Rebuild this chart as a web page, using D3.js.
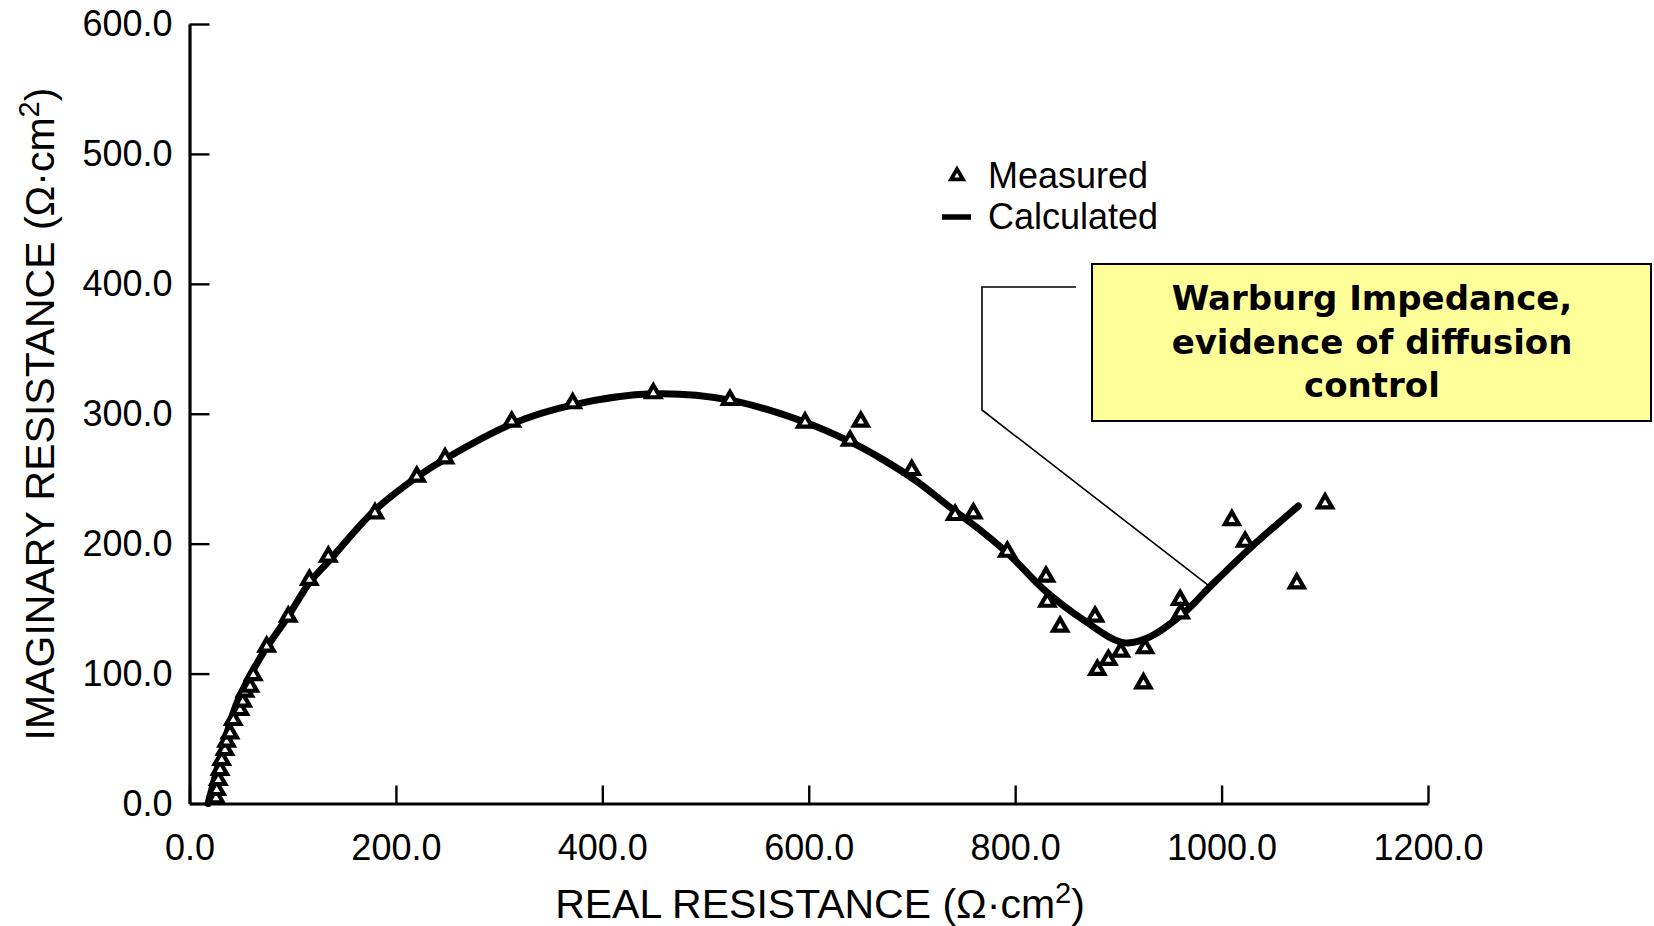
<!DOCTYPE html>
<html>
<head>
<meta charset="utf-8">
<script src="https://cdn.jsdelivr.net/npm/d3@7/dist/d3.min.js"></script>
<style>
  html, body { margin: 0; padding: 0; background: #fff; }
  svg { display: block; }
  .tick text { font-family: "Liberation Sans", Arial, Helvetica, sans-serif; font-size: 36px; fill: #000; }
</style>
</head>
<body>
<svg id="chart" width="1654" height="926"></svg>
<script>
// Measured impedance (real, imaginary), Ω·cm²
const measuredReal = [
  25.7, 26.4, 27.9, 29.6, 31.2, 34.4, 36.0, 39.2, 42.4, 48.9, 51.6, 53.8, 58.6, 61.8,
  74.8, 95.7, 116.1, 134.5, 179.7, 220.2, 247.6, 312.2, 371.3, 449.4, 523.7, 596.4,
  640.0, 650.4, 699.8, 741.8, 759.5, 792.4, 829.9, 831.2, 843.5, 877.4, 879.6, 890.3,
  902.3, 925.9, 924.3, 959.8, 960.4, 1009.9, 1022.8, 1072.9, 1100.3
];
const measuredImag = [
  4.0, 10.4, 18.1, 25.8, 33.5, 41.2, 47.6, 54.0, 64.3, 72.0, 78.4, 86.1, 89.9, 98.9,
  120.7, 143.8, 172.1, 190.0, 223.4, 251.6, 265.7, 293.9, 308.1, 315.8, 310.6, 293.2,
  279.3, 293.9, 256.7, 222.1, 223.4, 193.8, 174.6, 155.3, 136.1, 143.8, 102.8, 110.5,
  116.9, 119.5, 92.5, 156.7, 146.4, 218.2, 201.5, 169.5, 231.1
];

// Calculated (fitted) impedance curve
const calcReal = [
  18, 26.6, 34.4, 45.1, 58.6, 73.2, 94.5, 116.8, 136.1, 177.8, 220.4, 247.6, 312.5,
  371.6, 449.1, 523.7, 596.4, 640, 672.3, 704.7, 736.9, 769.2, 795, 827.3,
  866.1, 904.8, 930.7, 963, 988.8, 1027.6, 1074.4
];
const calcImag = [
  0, 25.8, 48.9, 75.8, 98.2, 118.2, 142.8, 170.5, 187.5, 224.4, 251.3, 265.2, 292.2,
  306.8, 315.3, 310.5, 293.5, 278.5, 264.5, 248, 228, 208.5, 191, 165,
  141.3, 123.8, 128.4, 146.4, 166.9, 196.5, 229
];

const xTicks = [0, 200, 400, 600, 800, 1000, 1200];
const yTicks = [0, 100, 200, 300, 400, 500, 600];
const legendLabels = ["Measured", "Calculated"];
const noteLines = ["Warburg Impedance,", "evidence of diffusion", "control"];
// point on the curve the note refers to
const notePoint = { real: 988.8, imag: 166.9 };

const svg = d3.select("#chart");
const axisFont = '"Liberation Sans", Arial, Helvetica, sans-serif';

const x = d3.scaleLinear().domain([0, 1200]).range([189.5, 1428]);
const y = d3.scaleLinear().domain([0, 600]).range([803.5, 24]);
const fmt = d3.format(".1f");

// Axes: ticks point inward
const xAxis = svg.append("g")
  .attr("transform", `translate(0,${y(0)})`)
  .call(d3.axisBottom(x).tickValues(xTicks).tickFormat(fmt)
    .tickSizeInner(-18).tickSizeOuter(0).tickPadding(31));
const yAxis = svg.append("g")
  .attr("transform", `translate(${x(0)},0)`)
  .call(d3.axisLeft(y).tickValues(yTicks).tickFormat(fmt)
    .tickSizeInner(-20).tickSizeOuter(0).tickPadding(17));

[xAxis, yAxis].forEach(g => {
  g.attr("font-family", null).attr("font-size", null);
  g.select(".domain").attr("stroke", "#000").attr("stroke-width", 3.2);
  g.selectAll(".tick line").attr("stroke", "#000").attr("stroke-width", 2.4);
});

// Axis titles
const xTitle = svg.append("text")
  .attr("x", 820).attr("y", 918)
  .attr("text-anchor", "middle")
  .attr("font-family", axisFont).attr("font-size", 41);
xTitle.append("tspan").text("REAL RESISTANCE (Ω·cm");
xTitle.append("tspan").attr("font-size", 29).attr("dy", -15).text("2");
xTitle.append("tspan").attr("dy", 15).text(")");

const yTitle = svg.append("text")
  .attr("transform", "translate(54,414) rotate(-90)")
  .attr("text-anchor", "middle")
  .attr("font-family", axisFont).attr("font-size", 41);
yTitle.append("tspan").text("IMAGINARY RESISTANCE (Ω·cm");
yTitle.append("tspan").attr("font-size", 29).attr("dy", -15).text("2");
yTitle.append("tspan").attr("dy", 15).text(")");

// Calculated curve
const calc = calcReal.map((r, i) => [r, calcImag[i]]);
svg.append("path")
  .datum(calc)
  .attr("fill", "none")
  .attr("stroke", "#000")
  .attr("stroke-width", 7)
  .attr("stroke-linejoin", "round")
  .attr("stroke-linecap", "round")
  .attr("d", d3.line().x(d => x(d[0])).y(d => y(d[1])).curve(d3.curveCatmullRom.alpha(0.5)));

// Measured points
const tri = d3.symbol().type(d3.symbolTriangle).size(84);
const measured = measuredReal.map((r, i) => [r, measuredImag[i]]);
svg.append("g").selectAll("path")
  .data(measured)
  .join("path")
  .attr("d", tri)
  .attr("transform", d => `translate(${x(d[0])},${y(d[1])})`)
  .attr("fill", "#fff")
  .attr("stroke", "#000")
  .attr("stroke-width", 4.2)
  .attr("stroke-linejoin", "miter");

// Legend
const legend = svg.append("g");
legend.append("path")
  .attr("d", d3.symbol().type(d3.symbolTriangle).size(62))
  .attr("transform", "translate(957,176)")
  .attr("fill", "#fff").attr("stroke", "#000").attr("stroke-width", 3.8);
legend.append("line")
  .attr("x1", 942).attr("x2", 971).attr("y1", 217).attr("y2", 217)
  .attr("stroke", "#000").attr("stroke-width", 5.5);
legend.selectAll("text")
  .data(legendLabels)
  .join("text")
  .attr("x", 988)
  .attr("y", (d, i) => 188 + i * 41)
  .attr("font-family", axisFont)
  .attr("font-size", 36)
  .text(d => d);

// Annotation call-out
const px = x(notePoint.real), py = y(notePoint.imag);
svg.append("polyline")
  .attr("points", [[1076, 287], [982, 287], [982, 410], [px, py]].map(p => p.join(",")).join(" "))
  .attr("fill", "none")
  .attr("stroke", "#000")
  .attr("stroke-width", 1.6);

svg.append("rect")
  .attr("x", 1092).attr("y", 264)
  .attr("width", 559).attr("height", 157)
  .attr("fill", "#ffff99")
  .attr("stroke", "#000")
  .attr("stroke-width", 2);

svg.append("g").selectAll("text")
  .data(noteLines)
  .join("text")
  .attr("x", 1372)
  .attr("y", (d, i) => 310 + i * 43.5)
  .attr("text-anchor", "middle")
  .attr("font-family", '"DejaVu Sans", sans-serif')
  .attr("font-weight", "bold")
  .attr("font-size", 34)
  .text(d => d);
</script>
</body>
</html>
